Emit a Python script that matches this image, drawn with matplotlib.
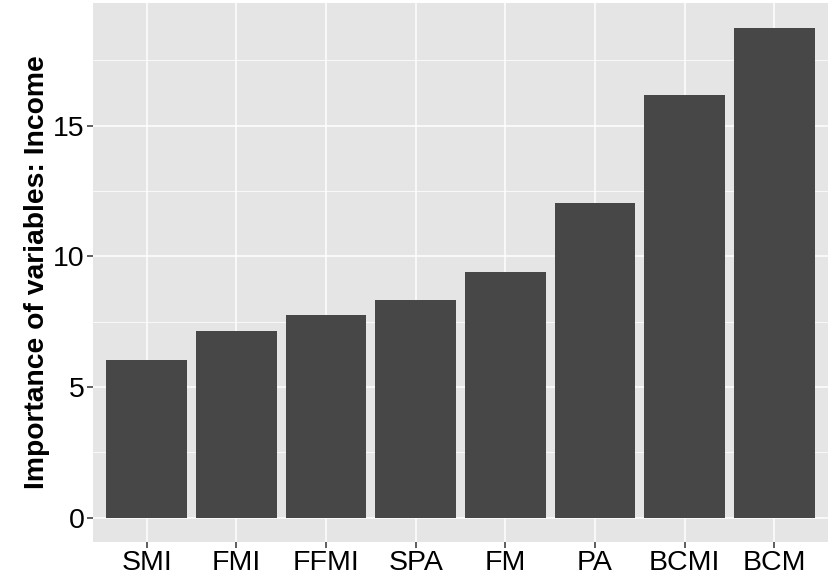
import matplotlib
matplotlib.use("Agg")
import matplotlib.pyplot as plt
import numpy as np

categories = ["SMI", "FMI", "FFMI", "SPA", "FM", "PA", "BCMI", "BCM"]
values = [6.04, 7.12, 7.73, 8.34, 9.41, 12.05, 16.18, 18.75]
yticks = [0, 5, 10, 15]
ylabel = "Importance of variables: Income"

plt.rcParams['font.family'] = ['Liberation Sans', 'DejaVu Sans']

W, H = 838, 576
fig = plt.figure(figsize=(W/100, H/100), dpi=100)
left, right, top, bottom = 93, 828, 3, 542
ax = fig.add_axes([left/W, 1 - bottom/H, (right-left)/W, (bottom-top)/H])
ax.set_facecolor("#E5E5E5")
x = np.arange(1, len(categories)+1)
ax.bar(x, values, width=0.9, color="#474747", zorder=3)
ax.set_xlim(0.4, len(categories)+0.6)
ymax = max(values)
ax.set_ylim(-0.05*ymax, 1.05*ymax)
ax.set_xticks(x)
ax.set_xticklabels(categories)
ax.set_yticks(yticks)
ax.set_yticks([2.5, 7.5, 12.5, 17.5], minor=True)
ax.grid(True, which="major", color="white", linewidth=1.1, zorder=1)
ax.grid(True, which="minor", axis="y", color="white", linewidth=0.55, zorder=1)
for s in ax.spines.values():
    s.set_visible(False)
ax.tick_params(axis="both", which="major", length=4, width=1.1, color="#333333",
               labelsize=20.5, labelcolor="black", pad=1.5)
ax.tick_params(axis="y", which="major", pad=2)
ax.tick_params(axis="both", which="minor", length=0)
ax.set_ylabel(ylabel, fontsize=20.3, fontweight="bold", labelpad=2)
fig.savefig("out.png", dpi=100)
